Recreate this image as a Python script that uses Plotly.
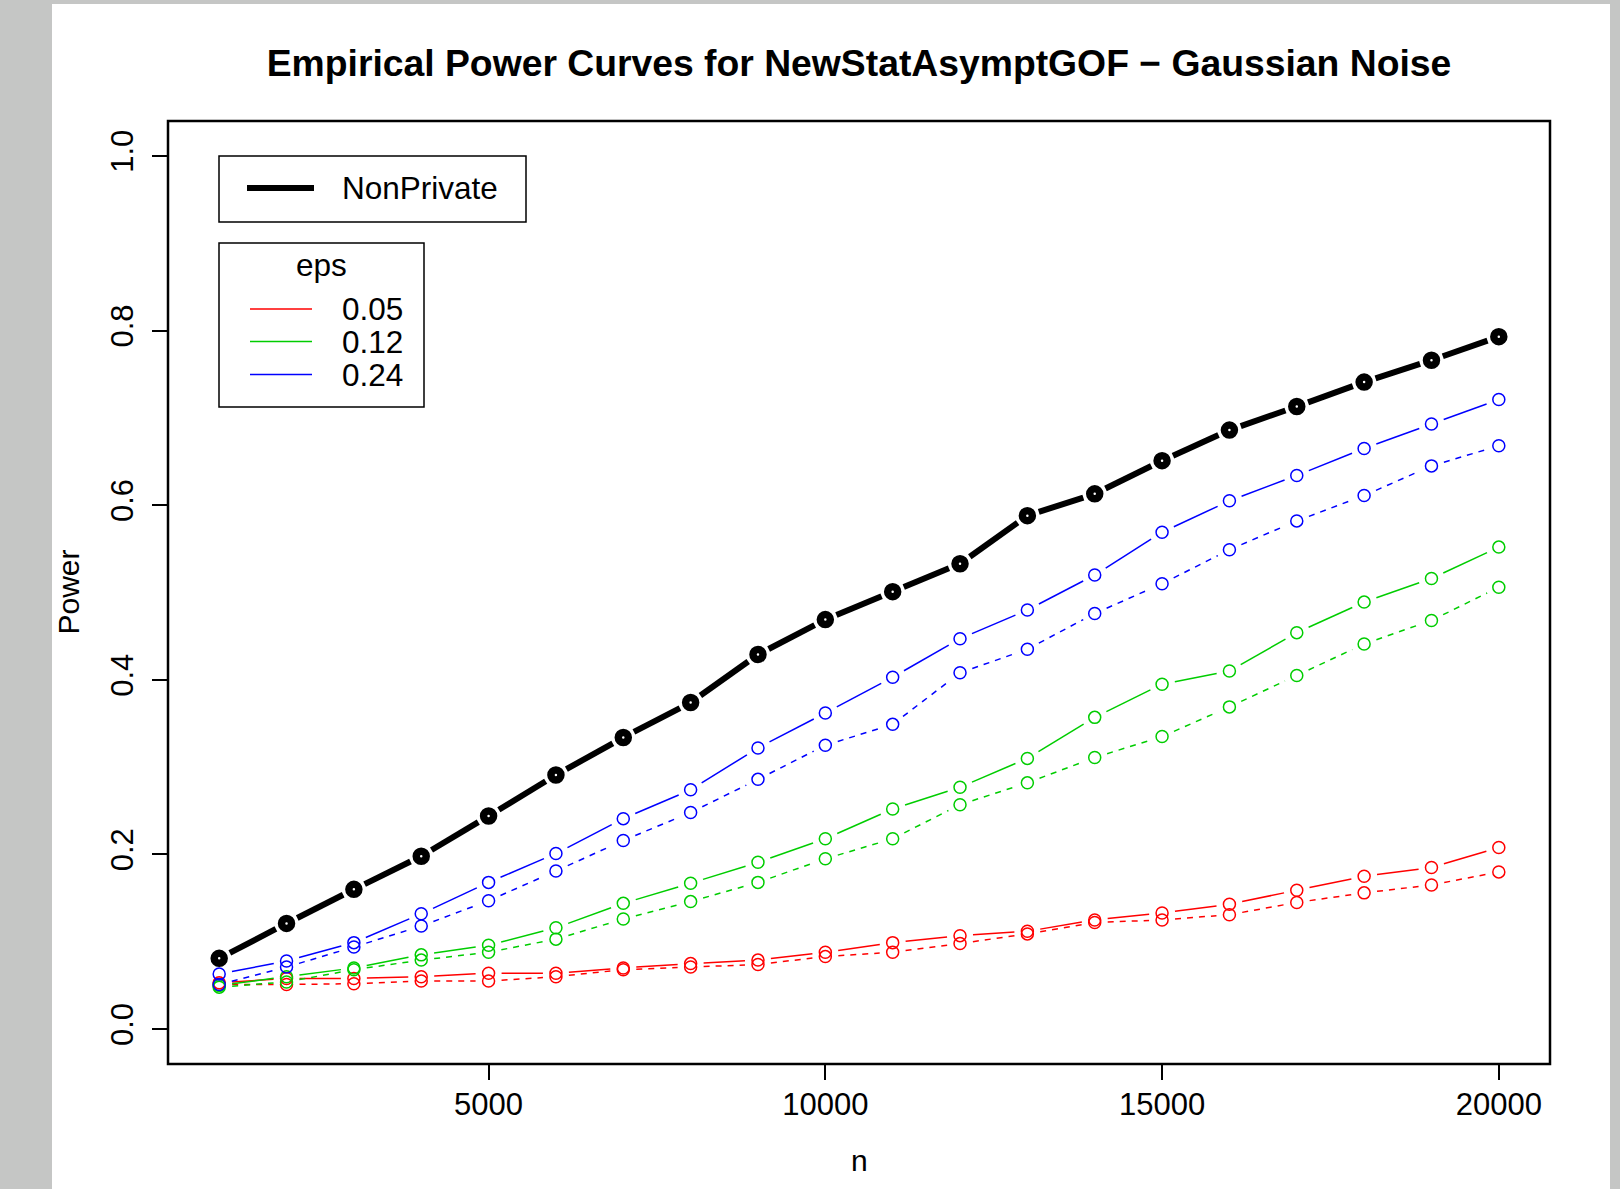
import math
import plotly.graph_objects as go

# ---------------- data ----------------
n_values = [1000, 2000, 3000, 4000, 5000, 6000, 7000, 8000, 9000, 10000,
            11000, 12000, 13000, 14000, 15000, 16000, 17000, 18000, 19000, 20000]

power_nonprivate = [0.081, 0.121, 0.160, 0.198, 0.244, 0.291, 0.334, 0.374, 0.429, 0.469,
                    0.501, 0.533, 0.588, 0.613, 0.651, 0.686, 0.713, 0.741, 0.766, 0.793]

power_eps005_solid = [0.053, 0.058, 0.058, 0.060, 0.064, 0.064, 0.070, 0.075, 0.079, 0.088,
                      0.099, 0.107, 0.112, 0.125, 0.133, 0.143, 0.159, 0.175, 0.185, 0.208]
power_eps005_dashed = [0.051, 0.051, 0.052, 0.055, 0.055, 0.060, 0.068, 0.071, 0.074, 0.083,
                       0.088, 0.098, 0.109, 0.122, 0.125, 0.131, 0.145, 0.156, 0.165, 0.180]

power_eps012_solid = [0.050, 0.060, 0.070, 0.085, 0.096, 0.116, 0.144, 0.167, 0.191, 0.218,
                      0.252, 0.277, 0.310, 0.357, 0.395, 0.410, 0.454, 0.489, 0.516, 0.552]
power_eps012_dashed = [0.048, 0.054, 0.068, 0.079, 0.088, 0.103, 0.126, 0.146, 0.168, 0.195,
                       0.218, 0.257, 0.282, 0.311, 0.335, 0.369, 0.405, 0.441, 0.468, 0.506]

power_eps024_solid = [0.063, 0.078, 0.099, 0.132, 0.168, 0.201, 0.241, 0.274, 0.322, 0.362,
                      0.403, 0.447, 0.480, 0.520, 0.569, 0.605, 0.634, 0.665, 0.693, 0.721]
power_eps024_dashed = [0.051, 0.071, 0.094, 0.118, 0.147, 0.181, 0.216, 0.248, 0.286, 0.325,
                       0.349, 0.408, 0.435, 0.476, 0.510, 0.549, 0.582, 0.611, 0.645, 0.668]

eps_labels = ["0.05", "0.12", "0.24"]
x_tick_values = [5000, 10000, 15000, 20000]
x_tick_labels = ["5000", "10000", "15000", "20000"]
y_tick_values = [0.0, 0.2, 0.4, 0.6, 0.8, 1.0]
y_tick_labels = ["0.0", "0.2", "0.4", "0.6", "0.8", "1.0"]

TITLE = "Empirical Power Curves for NewStatAsymptGOF \u2212 Gaussian Noise"
X_LABEL = "n"
Y_LABEL = "Power"
LEGEND_MAIN = "NonPrivate"
LEGEND_TITLE = "eps"

# ---------------- layout geometry ----------------
W, H = 1620, 1189
PL, PR, PT, PB = 168, 1550, 121, 1064
XR = [240, 20760]
YR = [-0.04, 1.04]
FONT = "Liberation Sans, Arial, Helvetica, sans-serif"
RED, GREEN, BLUE = "#FF0000", "#00CD00", "#0000FF"
GRAY = "#c5c6c5"

sx = (PR - PL) / (XR[1] - XR[0])
sy = (PB - PT) / (YR[1] - YR[0])


def px_x(p):
    return (p - PL) / (PR - PL)


def px_y(p):
    return (PB - p) / (PB - PT)


def gapped(xs, ys, gap):
    """Line segments between points with a gap around each point (like R type='b')."""
    ox, oy = [], []
    for i in range(len(xs) - 1):
        dx, dy = xs[i + 1] - xs[i], ys[i + 1] - ys[i]
        L = math.hypot(dx * sx, dy * sy)
        t = gap / L
        ox += [xs[i] + t * dx, xs[i + 1] - t * dx, None]
        oy += [ys[i] + t * dy, ys[i + 1] - t * dy, None]
    return ox, oy


fig = go.Figure()

def add_series(ys, color, dash, name, lw, msize, mlw, gap):
    gx, gy = gapped(n_values, ys, gap)
    fig.add_trace(go.Scatter(x=gx, y=gy, mode="lines", name=name, showlegend=False,
                             line=dict(color=color, width=lw, dash=dash),
                             hoverinfo="skip", connectgaps=False))
    fig.add_trace(go.Scatter(x=n_values, y=ys, mode="markers", name=name, showlegend=False,
                             marker=dict(symbol="circle-open", size=msize, color=color,
                                         line=dict(color=color, width=mlw))))

add_series(power_nonprivate, "black", "solid", LEGEND_MAIN, 6, 10, 7.5, 12)
add_series(power_eps005_solid, RED, "solid", "eps 0.05", 1.5, 12, 1.5, 13)
add_series(power_eps005_dashed, RED, "6px,6px", "eps 0.05 (dashed)", 1.5, 12, 1.5, 13)
add_series(power_eps012_solid, GREEN, "solid", "eps 0.12", 1.5, 12, 1.5, 13)
add_series(power_eps012_dashed, GREEN, "6px,6px", "eps 0.12 (dashed)", 1.5, 12, 1.5, 13)
add_series(power_eps024_solid, BLUE, "solid", "eps 0.24", 1.5, 12, 1.5, 13)
add_series(power_eps024_dashed, BLUE, "6px,6px", "eps 0.24 (dashed)", 1.5, 12, 1.5, 13)

shapes = []
# white page area over gray background
shapes.append(dict(type="rect", xref="paper", yref="paper", layer="below",
                   x0=px_x(52), x1=px_x(1610), y0=px_y(H + 5), y1=px_y(4),
                   fillcolor="white", line=dict(width=0)))
# plot frame (box)
shapes.append(dict(type="rect", xref="paper", yref="paper", x0=0, x1=1, y0=0, y1=1,
                   line=dict(color="black", width=2.5)))
# legend 1
shapes.append(dict(type="rect", xref="paper", yref="paper",
                   x0=px_x(219), x1=px_x(526), y0=px_y(222), y1=px_y(156),
                   line=dict(color="black", width=1.5), fillcolor="white"))
shapes.append(dict(type="line", xref="paper", yref="paper",
                   x0=px_x(247), x1=px_x(314), y0=px_y(188), y1=px_y(188),
                   line=dict(color="black", width=6)))
# legend 2
shapes.append(dict(type="rect", xref="paper", yref="paper",
                   x0=px_x(219), x1=px_x(424), y0=px_y(407), y1=px_y(243),
                   line=dict(color="black", width=1.5), fillcolor="white"))
leg_y = [309, 341.5, 374.5]
for yy, col in zip(leg_y, [RED, GREEN, BLUE]):
    shapes.append(dict(type="line", xref="paper", yref="paper",
                       x0=px_x(250), x1=px_x(312), y0=px_y(yy), y1=px_y(yy),
                       line=dict(color=col, width=1.5)))

LFS = 31.5
annotations = []
annotations.append(dict(text=LEGEND_MAIN, xref="paper", yref="paper", x=px_x(340), y=px_y(188),
                        xanchor="left", yanchor="middle", showarrow=False,
                        font=dict(family=FONT, size=LFS, color="black")))
annotations.append(dict(text=LEGEND_TITLE, xref="paper", yref="paper", x=px_x(321.5), y=px_y(265),
                        xanchor="center", yanchor="middle", showarrow=False,
                        font=dict(family=FONT, size=LFS, color="black")))
for yy, lab in zip(leg_y, eps_labels):
    annotations.append(dict(text=lab, xref="paper", yref="paper", x=px_x(340), y=px_y(yy),
                            xanchor="left", yanchor="middle", showarrow=False,
                            font=dict(family=FONT, size=LFS, color="black")))
# axis titles
annotations.append(dict(text=Y_LABEL, xref="paper", yref="paper", x=px_x(68), y=0.5,
                        xanchor="center", yanchor="middle", textangle=-90, showarrow=False,
                        font=dict(family=FONT, size=30, color="black")))
annotations.append(dict(text=X_LABEL, xref="paper", yref="paper", x=0.5, y=px_y(1160),
                        xanchor="center", yanchor="middle", showarrow=False,
                        font=dict(family=FONT, size=30, color="black")))

fig.update_layout(
    width=W, height=H, autosize=False,
    margin=dict(l=PL, r=W - PR, t=PT, b=H - PB, pad=0),
    paper_bgcolor=GRAY, plot_bgcolor="white",
    title=dict(text="<b>" + TITLE + "</b>", x=0.5, xref="paper", xanchor="center",
               y=1 - 63 / H, yref="container", yanchor="middle",
               font=dict(family=FONT, size=37.3, color="black")),
    showlegend=False,
    shapes=shapes, annotations=annotations,
    xaxis=dict(range=XR, tickmode="array", tickvals=x_tick_values, ticktext=x_tick_labels,
               ticks="outside", ticklen=15, tickwidth=2, tickcolor="black",
               showline=False, showgrid=False, zeroline=False, ticklabelstandoff=-2,
               tickfont=dict(family=FONT, size=31, color="black")),
    yaxis=dict(range=YR, tickmode="array", tickvals=y_tick_values, ticktext=y_tick_labels,
               tickangle=-90, ticks="outside", ticklen=15, tickwidth=2, tickcolor="black",
               showline=False, showgrid=False, zeroline=False, ticklabelstandoff=7,
               tickfont=dict(family=FONT, size=31, color="black")),
)

fig.write_html("out.html")
